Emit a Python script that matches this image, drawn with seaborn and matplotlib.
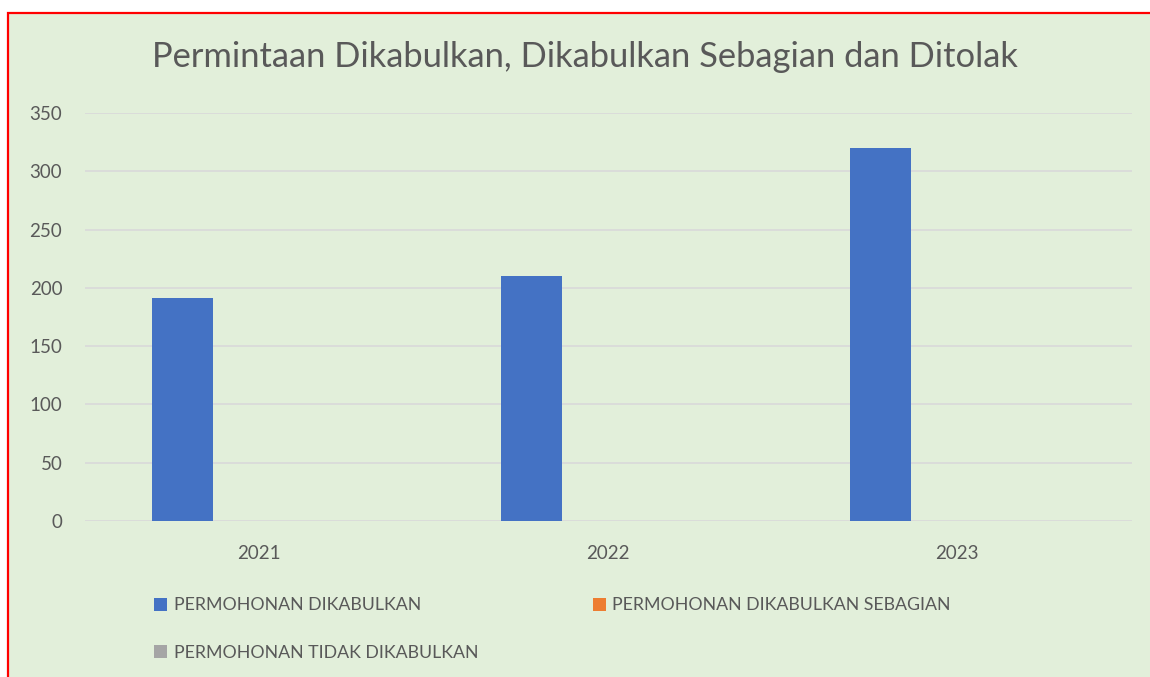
import matplotlib
matplotlib.use("Agg")
import matplotlib.pyplot as plt
from matplotlib.patches import Patch, Rectangle
import pandas as pd
import seaborn as sns


YEARS = ["2021", "2022", "2023"]
SERIES = [
    "PERMOHONAN DIKABULKAN",
    "PERMOHONAN DIKABULKAN SEBAGIAN",
    "PERMOHONAN TIDAK DIKABULKAN",
]
DIKABULKAN = [191, 210, 320]
DIKABULKAN_SEBAGIAN = [0, 0, 0]
TIDAK_DIKABULKAN = [0, 0, 0]
Y_TICKS = [0, 50, 100, 150, 200, 250, 300, 350]

TITLE = "Permintaan Dikabulkan, Dikabulkan Sebagian dan Ditolak"

PALETTE = {
    SERIES[0]: "#4472C4",
    SERIES[1]: "#ED7D31",
    SERIES[2]: "#A5A5A5",
}
TEXT_COLOUR = "#595959"
BG_COLOUR = "#E2EFDA"
W, H = 1150, 677


def build_frame() -> pd.DataFrame:
    rows = []
    for name, vals in zip(SERIES, [DIKABULKAN, DIKABULKAN_SEBAGIAN, TIDAK_DIKABULKAN]):
        for year, v in zip(YEARS, vals):
            rows.append({"year": year, "series": name, "value": v})
    return pd.DataFrame(rows)


sns.set_theme(style="white")
plt.rcParams["font.family"] = ["Lato", "DejaVu Sans"]

fig = plt.figure(figsize=(W / 100, H / 100), dpi=100)
fig.patch.set_facecolor("white")

# chart area with red outline (only left/top edges visible in the crop)
fig.patches.append(Rectangle((8 / W, -0.1), 1.2, 1.1 - 13 / H,
                             transform=fig.transFigure, facecolor=BG_COLOUR,
                             edgecolor="#FF0000", linewidth=1.6, zorder=-10))

ax = fig.add_axes([84.5 / W, 1 - 521 / H, 1047 / W, 408 / H])
ax.set_facecolor("none")

df = build_frame()
sns.barplot(data=df, x="year", y="value", hue="series", hue_order=SERIES,
            order=YEARS, palette=PALETTE, saturation=1, width=0.6576, gap=0.2,
            linewidth=0, legend=False, ax=ax, zorder=3)

ax.set_xlim(-0.5, 2.5)
ax.set_ylim(0, 350)
ax.set_yticks(Y_TICKS)
ax.yaxis.grid(True, color="#D9D9D9", linewidth=1.2, zorder=0)
ax.set_axisbelow(True)
for s in ax.spines.values():
    s.set_visible(False)
ax.set_xlabel("")
ax.set_ylabel("")
ax.tick_params(axis="both", length=0, labelsize=13.5, labelcolor=TEXT_COLOUR)
ax.tick_params(axis="y", pad=16)
ax.tick_params(axis="x", pad=17)

fig.text(585 / W, 1 - 57 / H, TITLE, ha="center", va="center",
         fontsize=24.8, color=TEXT_COLOUR)

handles = [Patch(facecolor=PALETTE[s], edgecolor="none") for s in SERIES]
order = [0, 2, 1]
fig.legend([handles[i] for i in order], [SERIES[i] for i in order],
           loc="upper left", bbox_to_anchor=(154 / W, 1 - 597.5 / H), ncol=2,
           frameon=False, fontsize=12.8, labelcolor=TEXT_COLOUR,
           handlelength=0.75, handleheight=0.75, handletextpad=0.35,
           columnspacing=6.45, labelspacing=1.78, borderpad=0, borderaxespad=0)

fig.savefig("out.png", dpi=100)
